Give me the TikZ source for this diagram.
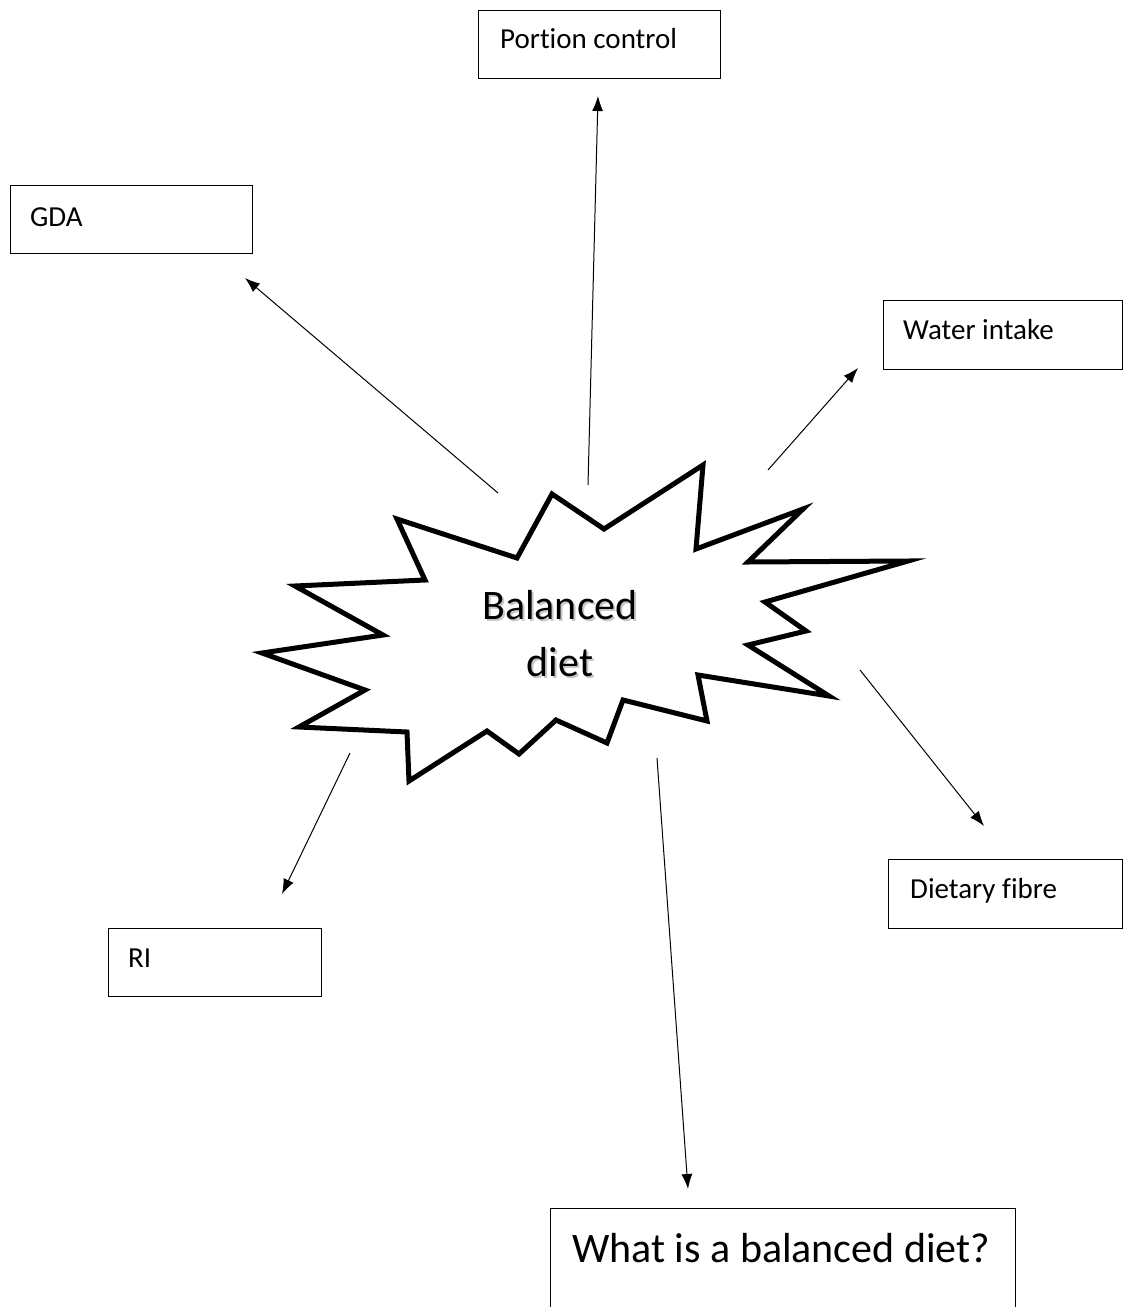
\documentclass[tikz,border=0pt]{standalone}
\usepackage{fontspec}
\setmainfont[Ligatures=NoCommon]{Carlito}
\usetikzlibrary{arrows.meta}
\begin{document}
\begin{tikzpicture}[x=1pt,y=-1pt,
  box/.style={draw,line width=1.3pt,inner sep=0pt,anchor=north west},
  lbl/.style={anchor=base west,inner sep=0pt,font=\fontsize{29}{35}\selectfont},
  big/.style={inner sep=0pt,font=\fontsize{42}{57}\selectfont},
  arr/.style={-{Latex[length=15pt,width=11pt]},line width=1pt},
  starline/.style={line width=5pt,miter limit=20}]
\useasboundingbox (0,0) rectangle (1123,1307);
\clip (0,0) rectangle (1123,1307);

% boxes
\node[box,minimum width=242pt,minimum height=68pt] (portion) at (478,10) {};
\node[lbl] (portiontxt) at (500,48) {Portion control};
\node[box,minimum width=242pt,minimum height=68pt] (gda) at (10,185) {};
\node[lbl] (gdatxt) at (30,226) {GDA};
\node[box,minimum width=239pt,minimum height=69pt] (water) at (883,300) {};
\node[lbl] (watertxt) at (903,339) {Water intake};
\node[box,minimum width=234pt,minimum height=69pt] (fibre) at (888,859) {};
\node[lbl] (fibretxt) at (910,898) {Dietary fibre};
\node[box,minimum width=213pt,minimum height=68pt] (ri) at (108,928) {};
\node[lbl] (ritxt) at (128,967) {RI};
\node[box,minimum width=465pt,minimum height=130pt] (what) at (550,1208) {};
\node[big,anchor=base west] (whattxt) at (572,1262) {What is a balanced diet?};

% star
\draw[starline,line join=miter]
  (397,519) -- (517,558) -- (552,494) -- (604,529) -- (703,465) -- (696,549)
  -- (803,509) -- (748,562) -- (908,561) -- (765,602) -- (806,631) -- (748,645)
  -- (829,696) -- (698,675) -- (707,721) -- (623,700) -- (607,743) -- (556,720)
  -- (519,754) -- (487,731) -- (409,781) -- (407,732) -- (299,727) -- (365,690)
  -- (262,653) -- (383,635) -- (295,586) -- (425,580) -- cycle;
\node[big,align=center,text=black!22] (shadow) at (562,636) {Balanced\\diet};
\node[big,align=center] (centre) at (560,634) {Balanced\\diet};

% arrow ends
\coordinate (p0) at (588,485);   \coordinate (p1) at (598,96);
\coordinate (g0) at (498,493);   \coordinate (g1) at (245,278);
\coordinate (w0) at (768,470);   \coordinate (w1) at (858,368);
\coordinate (d0) at (860,670);   \coordinate (d1) at (984,826);
\coordinate (r0) at (350,753);   \coordinate (r1) at (282,894);
\coordinate (q0) at (657,758);   \coordinate (q1) at (688,1189);

\draw[arr] (p0) -- (p1);
\draw[arr] (g0) -- (g1);
\draw[arr] (w0) -- (w1);
\draw[arr] (d0) -- (d1);
\draw[arr] (r0) -- (r1);
\draw[arr] (q0) -- (q1);
\end{tikzpicture}
\end{document}
